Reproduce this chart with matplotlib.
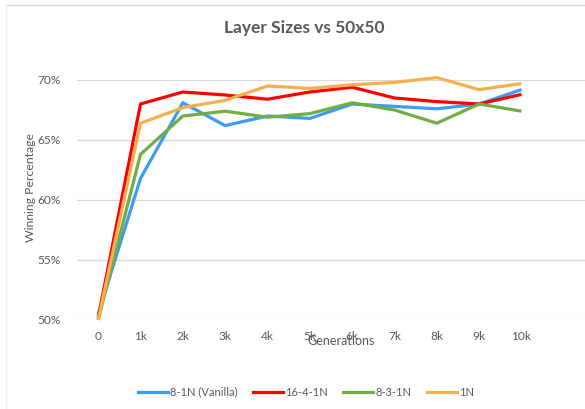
import matplotlib
matplotlib.use("Agg")
import matplotlib.pyplot as plt
from matplotlib.lines import Line2D

categories = ["0", "1k", "2k", "3k", "4k", "5k", "6k", "7k", "8k", "9k", "10k"]
vanilla = [50.5, 61.8, 68.1, 66.2, 67.0, 66.8, 68.0, 67.8, 67.6, 68.0, 69.2]
n16_4_1 = [50.2, 68.0, 69.0, 68.75, 68.4, 69.0, 69.4, 68.5, 68.2, 68.0, 68.8]
n8_3_1 = [50.0, 63.8, 67.0, 67.4, 66.9, 67.2, 68.1, 67.5, 66.4, 68.0, 67.4]
n1 = [50.0, 66.4, 67.7, 68.3, 69.5, 69.3, 69.6, 69.8, 70.2, 69.2, 69.7]
series_names = ["8-1N (Vanilla)", "16-4-1N", "8-3-1N", "1N"]
y_ticks = [50, 55, 60, 65, 70]
y_tick_labels = ["50%", "55%", "60%", "65%", "70%"]

colors = ["#3D9BF3", "#FF0000", "#70AD47", "#F4B04F"]
text_color = "#595959"
W, H = 585, 409

plt.rcParams["font.family"] = ["Lato", "DejaVu Sans"]
fig = plt.figure(figsize=(W / 100, H / 100), dpi=100)
ax = fig.add_axes([77 / W, 1 - 320 / H, (585 - 77) / W, (320 - 80) / H])

x = list(range(len(categories)))
for vals, c, name in zip([vanilla, n16_4_1, n8_3_1, n1], colors, series_names):
    ax.plot(x, vals, color=c, lw=2.3, label=name, clip_on=False,
            solid_capstyle="butt", solid_joinstyle="round")

ax.set_xlim(-0.5, 11.5)
ax.set_ylim(50, 70)
ax.set_yticks(y_ticks)
ax.set_yticklabels(y_tick_labels)
ax.set_xticks(x)
ax.set_xticklabels(categories)
ax.tick_params(length=0, labelsize=8.6, colors=text_color, pad=8)
ax.tick_params(axis="y", pad=12)
ax.grid(axis="y", color="#D9D9D9", lw=0.9)
ax.set_axisbelow(True)
for s in ax.spines.values():
    s.set_visible(False)

fig.text(341 / W, 1 - 341 / H, "Generations", ha="center", va="center",
         fontsize=9, color=text_color)
fig.text(30 / W, 1 - 188 / H, "Winning Percentage", ha="center", va="center",
         rotation=90, fontsize=8.8, color=text_color)
fig.text(304 / W, 1 - 28 / H, "Layer Sizes vs 50x50", ha="center", va="center",
         fontsize=12.5, fontweight="bold", color=text_color)

# chart border (top and left visible)
fig.add_artist(Line2D([6 / W, 1], [1 - 5 / H, 1 - 5 / H], color="#D9D9D9", lw=0.9))
fig.add_artist(Line2D([6 / W, 6 / W], [0, 1 - 5 / H], color="#EDEDED", lw=0.9))

handles = [Line2D([], [], color=c, lw=2.3) for c in colors]
fig.legend(handles, series_names, loc="center", bbox_to_anchor=(306 / W, 1 - 392 / H),
           ncol=4, frameon=False, fontsize=8, handlelength=2.7, handletextpad=0.2,
           columnspacing=1.4, labelcolor=text_color)

fig.savefig("out.png", dpi=100, facecolor="white")
